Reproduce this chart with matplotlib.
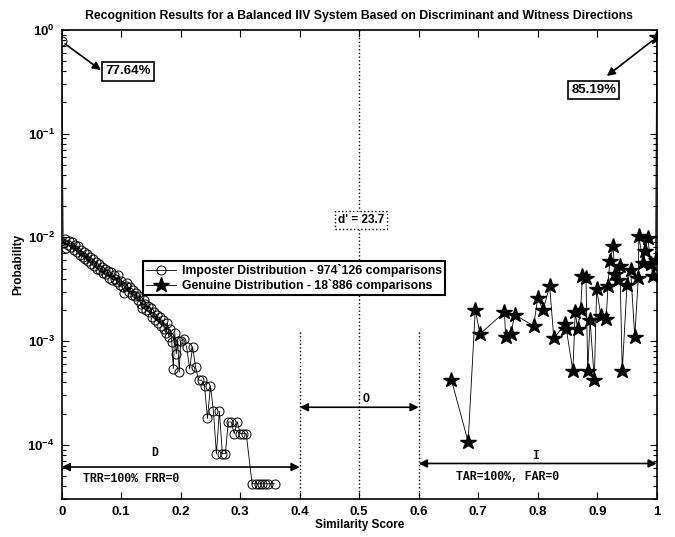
import numpy as np
import matplotlib.pyplot as plt
from matplotlib.ticker import LogLocator, NullFormatter

plt.rcParams['font.family'] = 'Liberation Sans'
plt.rcParams['font.weight'] = 'bold'
plt.rcParams['axes.titleweight'] = 'bold'
plt.rcParams['axes.labelweight'] = 'bold'
plt.rcParams['mathtext.fontset'] = 'custom'
plt.rcParams['mathtext.rm'] = 'Liberation Sans:bold'
plt.rcParams['mathtext.it'] = 'Liberation Sans:bold'
plt.rcParams['mathtext.bf'] = 'Liberation Sans:bold'
plt.rcParams['mathtext.default'] = 'rm'

# Imposter distribution (score, probability)
imp_x = [0.000, 0.0025, 0.005, 0.0075, 0.010, 0.0125, 0.015, 0.0175, 0.020, 0.0225,
         0.025, 0.0275, 0.030, 0.0325, 0.035, 0.0375, 0.040, 0.0425, 0.045, 0.0475,
         0.050, 0.0525, 0.055, 0.0575, 0.060, 0.0625, 0.065, 0.0675, 0.070, 0.0725,
         0.075, 0.0775, 0.080, 0.0825, 0.085, 0.0875, 0.090, 0.0925, 0.095, 0.0975,
         0.100, 0.1025, 0.105, 0.1075, 0.110, 0.1125, 0.115, 0.1175, 0.120, 0.1225,
         0.125, 0.1275, 0.130, 0.1325, 0.135, 0.1375, 0.140, 0.1425, 0.145, 0.1475,
         0.150, 0.1525, 0.155, 0.1575, 0.160, 0.1625, 0.165, 0.1675, 0.170, 0.1725,
         0.175, 0.1775, 0.180, 0.1825, 0.185, 0.1875, 0.190, 0.1925, 0.195, 0.1975,
         0.200, 0.205, 0.210, 0.215, 0.220, 0.225, 0.230, 0.235, 0.240, 0.245,
         0.250, 0.255, 0.260, 0.265, 0.270, 0.275, 0.280, 0.285, 0.290, 0.295,
         0.300, 0.305, 0.310, 0.320, 0.326, 0.331, 0.336, 0.341, 0.346, 0.358]
imp_y = [0.7764, 0.0088, 0.0097, 0.0079, 0.0084, 0.0092, 0.0080, 0.0090, 0.0076, 0.0084,
         0.0072, 0.0083, 0.0068, 0.0076, 0.0065, 0.0072, 0.0062, 0.0069, 0.0059, 0.0064,
         0.0056, 0.0062, 0.0053, 0.0058, 0.0050, 0.0055, 0.0049, 0.0052, 0.0045, 0.0050,
         0.0044, 0.0047, 0.0041, 0.0046, 0.0039, 0.0043, 0.0040, 0.0037, 0.0043, 0.0035,
         0.0038, 0.0033, 0.0029, 0.0034, 0.0036, 0.0030, 0.0033, 0.0028, 0.0031, 0.0027,
         0.0029, 0.0025, 0.0027, 0.0023, 0.0021, 0.0025, 0.0023, 0.0020, 0.0022, 0.0019,
         0.0021, 0.0017, 0.0019, 0.0016, 0.0018, 0.0015, 0.0017, 0.0014, 0.0016, 0.0013,
         0.0012, 0.0015, 0.0011, 0.0013, 0.00098, 0.00054, 0.00120, 0.00075, 0.00100, 0.00050,
         0.00100, 0.00105, 0.00087, 0.00054, 0.00088, 0.00056, 0.00042, 0.00042, 0.00037, 0.00018,
         0.00037, 0.00021, 0.000082, 0.00021, 0.000082, 0.000082, 0.000166, 0.000166, 0.000128, 0.000166,
         0.000128, 0.000128, 0.000128, 0.000042, 0.000042, 0.000042, 0.000042, 0.000042, 0.000042, 0.000042]

# Genuine distribution (score, probability)
gen_x = [0.655, 0.683, 0.695, 0.703, 0.744, 0.746, 0.755, 0.761, 0.793, 0.800,
         0.809, 0.820, 0.827, 0.845, 0.848, 0.859, 0.863, 0.867, 0.872, 0.875,
         0.881, 0.884, 0.888, 0.895, 0.899, 0.906, 0.915, 0.918, 0.921, 0.927,
         0.929, 0.935, 0.938, 0.942, 0.950, 0.956, 0.963, 0.969, 0.970, 0.977,
         0.980, 0.985, 0.990, 0.994, 0.998, 1.000]
gen_y = [4.2e-4, 1.07e-4, 2.0e-3, 1.17e-3, 1.9e-3, 1.1e-3, 1.17e-3, 1.8e-3, 1.4e-3, 2.6e-3,
         2.0e-3, 3.4e-3, 1.06e-3, 1.45e-3, 1.3e-3, 5.2e-4, 1.9e-3, 1.3e-3, 2.0e-3, 4.2e-3,
         4.1e-3, 5.2e-4, 1.6e-3, 4.2e-4, 3.2e-3, 1.75e-3, 1.65e-3, 3.4e-3, 5.9e-3, 8.3e-3,
         4.4e-3, 3.9e-3, 5.3e-3, 5.2e-4, 3.5e-3, 4.9e-3, 1.1e-3, 4.1e-3, 1.02e-2, 5.7e-3,
         7.4e-3, 9.8e-3, 5.5e-3, 4.2e-3, 6.1e-3, 0.8519]

x_ticks = [0, 0.1, 0.2, 0.3, 0.4, 0.5, 0.6, 0.7, 0.8, 0.9, 1]
x_tick_labels = ['0', '0.1', '0.2', '0.3', '0.4', '0.5', '0.6', '0.7', '0.8', '0.9', '1']

fig = plt.figure(figsize=(6.75, 5.37), dpi=100)
ax = fig.add_axes([0.0914, 0.0708, 0.8816, 0.8733])

ax.plot(imp_x, imp_y, 'k-', lw=0.6, marker='o', mfc='none', mec='k', ms=6.5, mew=0.7,
        label='Imposter Distribution - 974`126 comparisons')
ax.plot(gen_x, gen_y, 'k-', lw=0.6, marker='*', mfc='k', mec='k', ms=11.5,
        label='Genuine Distribution - 18`886 comparisons')

ax.set_yscale('log')
ax.set_xlim(0, 1)
ax.set_ylim(3e-5, 1)

# separation lines
ax.axvline(0.5, color='k', ls=':', lw=1)
ax.plot([0.4, 0.4], [3e-5, 1.26e-3], 'k:', lw=1)
ax.plot([0.6, 0.6], [3e-5, 1.26e-3], 'k:', lw=1)

# region arrows
arr = dict(arrowstyle='<|-|>', color='k', lw=1.2, mutation_scale=12, shrinkA=0, shrinkB=0)
ax.annotate('', xy=(0.0, 6.1e-5), xytext=(0.4, 6.1e-5), arrowprops=arr)
ax.annotate('', xy=(0.4, 2.3e-4), xytext=(0.6, 2.3e-4), arrowprops=arr)
ax.annotate('', xy=(0.6, 6.6e-5), xytext=(1.0, 6.6e-5), arrowprops=arr)

mono = dict(family='Liberation Mono', fontweight='bold', fontsize=8.3)
ax.text(0.156, 8.4e-5, 'D', ha='center', va='center', **mono)
ax.text(0.511, 2.75e-4, 'O', ha='center', va='center', **mono)
ax.text(0.797, 7.8e-5, 'I', ha='center', va='center', **mono)
ax.text(0.036, 4.7e-5, 'TRR=100% FRR=0', ha='left', va='center', **mono)
ax.text(0.75, 4.85e-5, 'TAR=100%, FAR=0', ha='center', va='center', **mono)

ax.text(0.503, 0.0147, "d' = 23.7", ha='center', va='center', fontsize=8.5,
        bbox=dict(boxstyle='square,pad=0.25', fc='white', ec='k', ls=':', lw=1))

# peak annotations
ax.annotate('', xy=(0.066, 0.41), xytext=(imp_x[0], imp_y[0]),
            arrowprops=dict(arrowstyle='-|>', color='k', lw=1.2, mutation_scale=12,
                            shrinkA=3, shrinkB=0))
ax.text(0.112, 0.40, '77.64%', ha='center', va='center', fontsize=9.5,
        bbox=dict(boxstyle='square,pad=0.25', fc='white', ec='k', lw=1.2))
ax.annotate('', xy=(0.916, 0.36), xytext=(gen_x[-1], gen_y[-1]),
            arrowprops=dict(arrowstyle='-|>', color='k', lw=1.2, mutation_scale=12,
                            shrinkA=4, shrinkB=0))
ax.text(0.894, 0.265, '85.19%', ha='center', va='center', fontsize=9.5,
        bbox=dict(boxstyle='square,pad=0.25', fc='white', ec='k', lw=1.2))

ax.set_xticks(x_ticks)
ax.set_xticklabels(x_tick_labels)
ax.yaxis.set_major_locator(LogLocator(base=10, numticks=10))
ax.yaxis.set_minor_locator(LogLocator(base=10, subs=np.arange(2, 10), numticks=20))
ax.yaxis.set_minor_formatter(NullFormatter())
ax.tick_params(which='both', direction='in', top=True, right=True, labelsize=9.5, width=0.8)
ax.tick_params(which='major', length=5, pad=5)
ax.tick_params(which='minor', length=3)
for s in ax.spines.values():
    s.set_linewidth(1.2)

ax.set_xlabel('Similarity Score', fontsize=8.5, labelpad=1)
ax.set_ylabel('Probability', fontsize=8.5, labelpad=2)
ax.set_title('Recognition Results for a Balanced IIV System Based on Discriminant and Witness Directions',
             fontsize=8.8, pad=8)

leg = ax.legend(loc='upper left', bbox_to_anchor=(0.137, 0.507), fontsize=8.8,
                frameon=True, fancybox=False, edgecolor='k', framealpha=1,
                handlelength=2.4, borderpad=0.25, labelspacing=0.15, handletextpad=0.5,
                borderaxespad=0)
leg.get_frame().set_linewidth(1.5)

fig.savefig('out.png', dpi=100)
